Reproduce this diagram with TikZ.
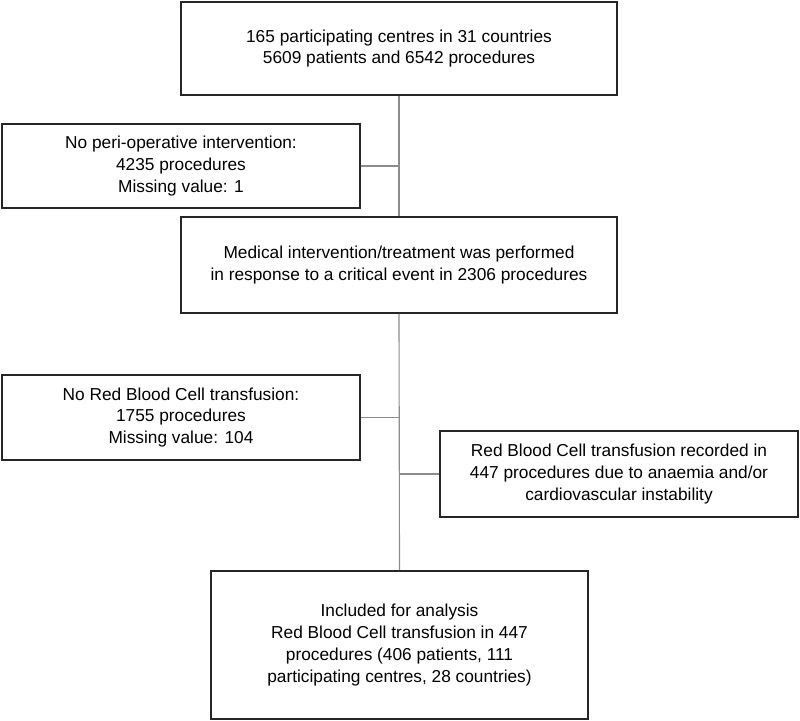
\documentclass[tikz,border=0pt]{standalone}
\usepackage{fontspec}
\setmainfont{Liberation Sans}
\tikzset{
  flowbox/.style={draw=black!85, line width=1.1pt, fill=white, align=center,
    font=\fontsize{12.3}{15.6}\selectfont, inner sep=0pt},
  link/.style={draw=black!45, line width=0.8pt}
}
\begin{document}
\begin{tikzpicture}[x=0.025cm,y=-0.025cm]
\useasboundingbox (0,0) rectangle (800,721);

% main column
\node[flowbox, minimum width=10.9cm, minimum height=2.325cm] (start) at (399,48.5)
  {165 participating centres in 31 countries\\5609 patients and 6542 procedures};
\node[flowbox, minimum width=10.9cm, minimum height=2.4cm] (medint) at (399,265)
  {Medical intervention/treatment was performed\\in response to a critical event in 2306 procedures};
\node[flowbox, minimum width=9.425cm, minimum height=3.7cm] (incl) at (399.5,645)
  {Included for analysis\\Red Blood Cell transfusion in 447\\procedures (406 patients, 111\\participating centres, 28 countries)};

% side boxes
\node[flowbox, minimum width=8.95cm, minimum height=2.1cm] (noint) at (181,166)
  {No peri-operative intervention:\\4235 procedures\\Missing value: 1};
\node[flowbox, minimum width=8.95cm, minimum height=2.125cm] (norbc) at (181,417.5)
  {No Red Blood Cell transfusion:\\1755 procedures\\Missing value: 104};
\node[flowbox, minimum width=8.95cm, minimum height=2.15cm] (rbc) at (619,474)
  {Red Blood Cell transfusion recorded in\\447 procedures due to anaemia and/or\\cardiovascular instability};

% connectors
\coordinate (j1) at (noint.east -| start.south);
\coordinate (j2) at (norbc.east -| start.south);
\coordinate (j3) at (rbc.west -| start.south);
\draw[link] (start.south) -- (medint.north);
\draw[link] (noint.east) -- (j1);
\draw[link] (medint.south) -- (incl.north);
\draw[link] (norbc.east) -- (j2);
\draw[link] (j3) -- (rbc.west);
\end{tikzpicture}
\end{document}
